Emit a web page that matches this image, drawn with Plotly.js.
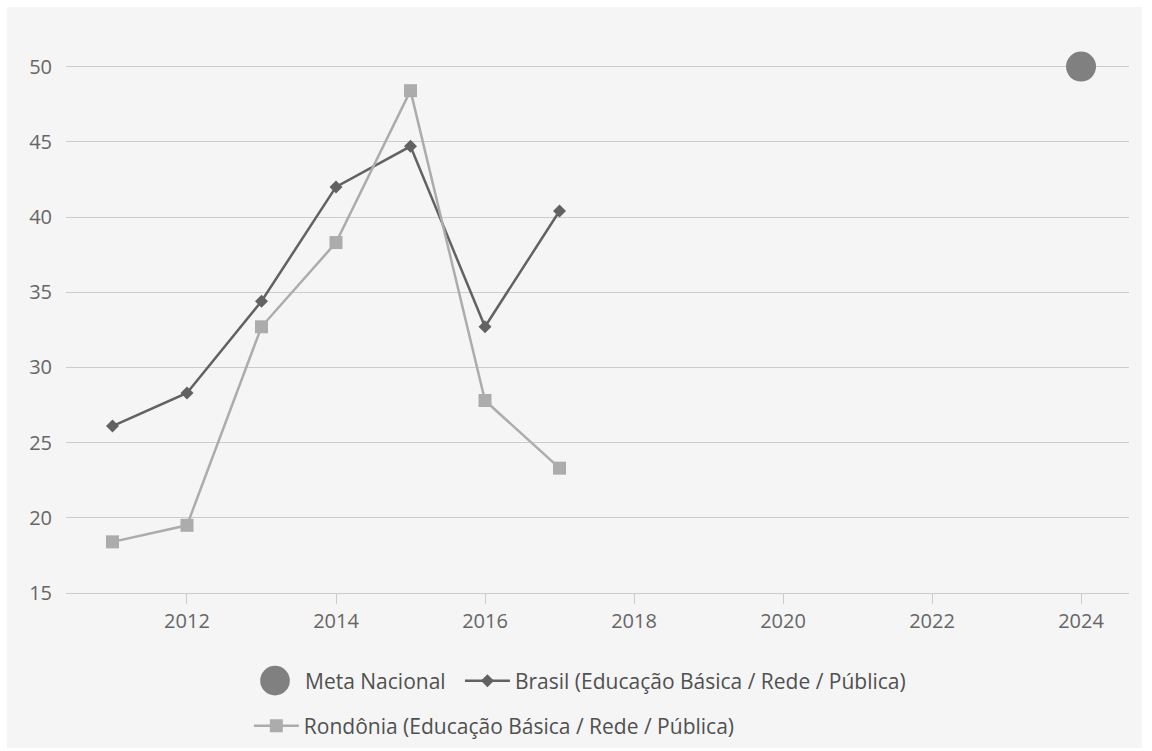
<!DOCTYPE html>
<html>
<head>
<meta charset="utf-8">
<script src="https://cdn.plot.ly/plotly-3.0.1.min.js"></script>
<style>
html,body{margin:0;padding:0;background:#ffffff;}
#chart{position:absolute;left:7px;top:7px;width:1135px;height:741px;}
</style>
</head>
<body>
<div id="chart"></div>
<script>
const years = [2011, 2012, 2013, 2014, 2015, 2016, 2017];
const brasil = [26.1, 28.3, 34.4, 42.0, 44.7, 32.7, 40.4];
const rondonia = [18.4, 19.5, 32.7, 38.3, 48.4, 27.8, 23.3];
const metaYear = [2024];
const metaValue = [50];
const seriesNames = ['Meta Nacional', 'Brasil (Educação Básica / Rede / Pública)', 'Rondônia (Educação Básica / Rede / Pública)'];
const xTicks = [2012, 2014, 2016, 2018, 2020, 2022, 2024];
const yTicks = [15, 20, 25, 30, 35, 40, 45, 50];

const traces = [
  {x: metaYear, y: metaValue, name: seriesNames[0], type: 'scatter', mode: 'markers', legend: 'legend',
   marker: {color: '#808080', size: 30, symbol: 'circle'}},
  {x: years, y: brasil, name: seriesNames[1], type: 'scatter', mode: 'lines+markers', legend: 'legend3',
   line: {color: '#626262', width: 2.5}, marker: {color: '#626262', size: 10, symbol: 'diamond'}},
  {x: years, y: rondonia, name: seriesNames[2], type: 'scatter', mode: 'lines+markers', legend: 'legend2',
   line: {color: '#acacac', width: 2.5}, marker: {color: '#acacac', size: 13, symbol: 'square'}}
];

const legendFont = {family: '"Open Sans", sans-serif', size: 21, color: '#505050'};
const legendBase = {orientation: 'h', xanchor: 'left', yanchor: 'middle', font: legendFont,
  bgcolor: 'rgba(0,0,0,0)', itemwidth: 45};

const layout = {
  paper_bgcolor: '#f5f5f5',
  plot_bgcolor: '#f5f5f5',
  margin: {l: 59, r: 13, t: 22, b: 155, autoexpand: false},
  font: {family: '"Open Sans", "DejaVu Sans", sans-serif', color: '#666666', size: 20},
  showlegend: true,
  xaxis: {
    range: [2010.376, 2024.644],
    tickvals: xTicks,
    ticktext: xTicks.map(String),
    showgrid: false, zeroline: false,
    showline: true, linecolor: '#cccccc', linewidth: 1,
    ticks: 'outside', ticklen: 10, tickcolor: '#cccccc',
    ticklabelstandoff: 0,
    tickfont: {size: 20, color: '#666666'}
  },
  yaxis: {
    range: [15, 52.5],
    tickvals: yTicks,
    showgrid: true, gridcolor: '#cccccc', gridwidth: 1,
    zeroline: false, showline: false, ticks: '',
    ticklabelstandoff: 13,
    tickfont: {size: 20, color: '#666666'}
  },
  legend: Object.assign({}, legendBase, {x: 0.1684, y: -0.156, itemwidth: 50}),
  legend3: Object.assign({}, legendBase, {x: 0.3706, y: -0.156}),
  legend2: Object.assign({}, legendBase, {x: 0.172, y: -0.236})
};

Plotly.newPlot('chart', traces, layout, {displayModeBar: false, staticPlot: true}).then(function (gd) {
  // enlarge the "Meta Nacional" legend symbol (Plotly caps legend markers at 16px)
  gd.querySelectorAll('g.legend .legendpoints path.scatterpts').forEach(function (p) {
    const t = p.getAttribute('transform') || '';
    p.setAttribute('transform', t + ' scale(1.85)');
  });
});
</script>
</body>
</html>
